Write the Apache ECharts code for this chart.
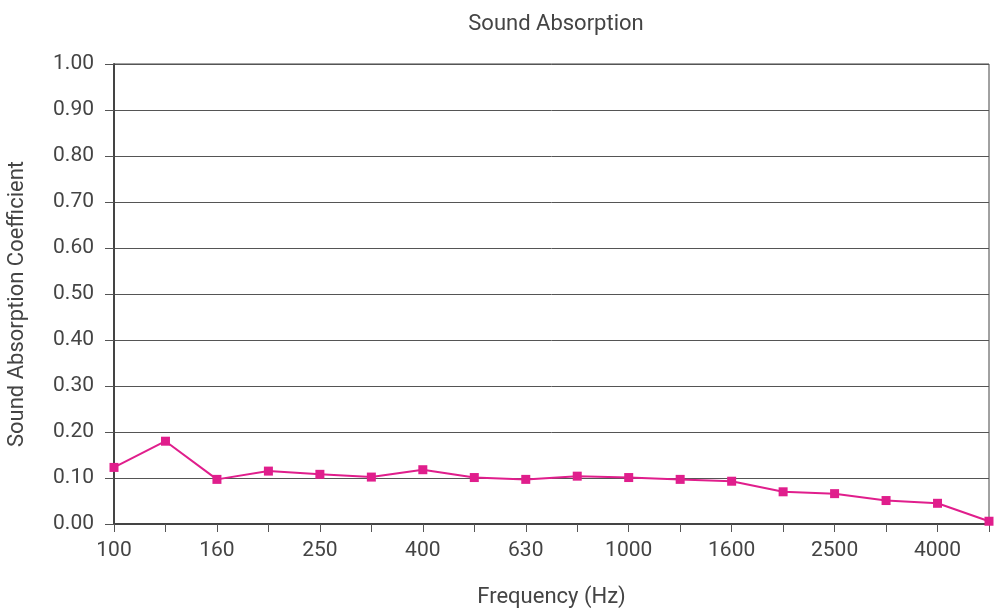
<!DOCTYPE html>
<html><head><meta charset="utf-8">
<script src="https://cdn.jsdelivr.net/npm/echarts@6/dist/echarts.min.js"></script>
<style>html,body{margin:0;padding:0;background:#fff}#c{width:994px;height:612px}</style>
</head><body><div id="c"></div>
<script>
const categories = ['100','125','160','200','250','315','400','500','630','800','1000','1250','1600','2000','2500','3150','4000','5000'];
const absorption = [0.123,0.180,0.097,0.115,0.108,0.102,0.118,0.101,0.097,0.104,0.101,0.097,0.093,0.070,0.066,0.051,0.045,0.006];
const yTicks = [0,0.1,0.2,0.3,0.4,0.5,0.6,0.7,0.8,0.9,1.0];
const FONT = 'Roboto';
const FS = 21;
const TXT = '#444';
const chart = echarts.init(document.getElementById('c'), null, {renderer:'canvas'});
chart.setOption({
  animation:false,
  backgroundColor:'#fff',
  title:{text:'Sound Absorption', left:551, top:8, textAlign:'center',
    textStyle:{fontFamily:FONT, fontSize:22, fontWeight:'normal', color:TXT}},
  grid:{left:114, right:5, top:64, bottom:88, show:true, borderColor:'#444', borderWidth:1,
    containLabel:false, outerBoundsMode:'none'},
  xAxis:{type:'category', data:categories, boundaryGap:false,
    name:'Frequency (Hz)', nameLocation:'middle', nameGap:62,
    nameTextStyle:{fontFamily:FONT, fontSize:22, color:TXT, verticalAlign:'top'},
    axisLine:{lineStyle:{color:'#444', width:2}},
    axisTick:{show:true, interval:0, length:8, lineStyle:{color:'#555', width:1}},
    axisLabel:{interval:1, fontFamily:FONT, fontSize:FS, color:TXT, margin:16},
    splitLine:{show:false}},
  yAxis:{type:'value', min:0, max:1, interval:0.1,
    name:'Sound Absorption Coefficient', nameLocation:'middle', nameGap:86,
    nameTextStyle:{fontFamily:FONT, fontSize:22, color:TXT, padding:[0,20,0,0]},
    axisLine:{show:true, lineStyle:{color:'#444', width:2}},
    axisTick:{show:true, length:9, lineStyle:{color:'#555'}},
    axisLabel:{fontFamily:FONT, fontSize:FS, color:TXT, margin:20,
      formatter:v=>v.toFixed(2)},
    splitLine:{show:true, lineStyle:{color:'#555', width:1}}},
  series:[{type:'line', data:absorption, symbol:'rect', symbolSize:9,
    itemStyle:{color:'#e01e8c'}, lineStyle:{color:'#e01e8c', width:2}}]
});
</script></body></html>
